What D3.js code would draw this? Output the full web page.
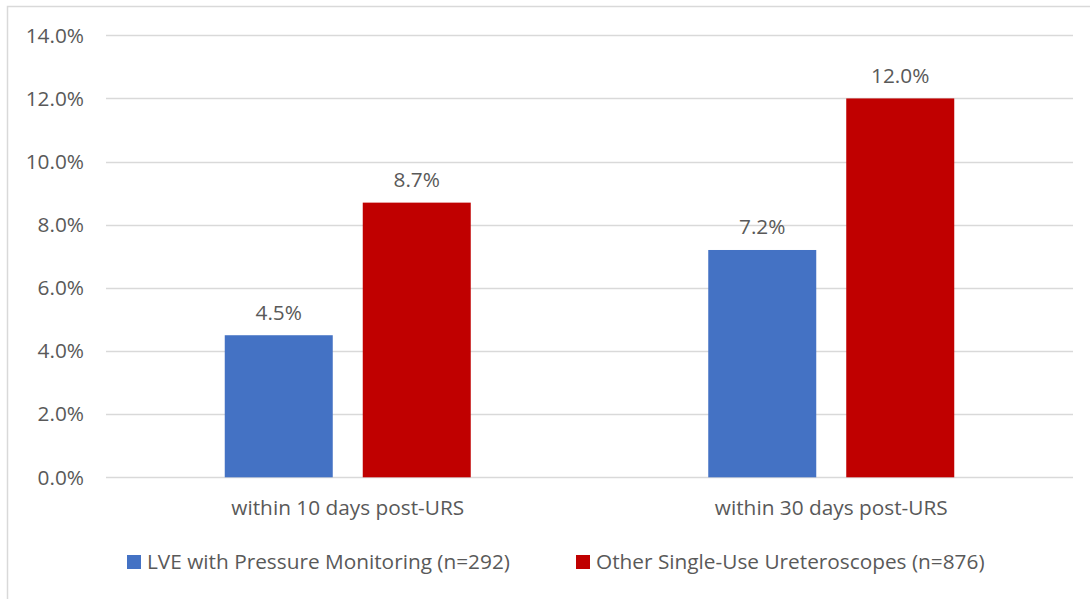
<!DOCTYPE html>
<html>
<head>
<meta charset="utf-8">
<script src="https://cdn.jsdelivr.net/npm/d3@7"></script>
<style>
  html, body { margin: 0; padding: 0; background: #fff; }
  svg { display: block; }
  text { font-family: "Open Sans", sans-serif; fill: #595959; }
</style>
</head>
<body>
<svg id="chart" width="1090" height="599"></svg>
<script>
// Readmission rates by follow-up window
const categories = ["within 10 days post-URS", "within 30 days post-URS"];
const seriesNames = ["LVE with Pressure Monitoring (n=292)", "Other Single-Use Ureteroscopes (n=876)"];
const lveValues = [4.5, 7.2];
const otherValues = [8.7, 12.0];
const seriesColors = ["#4472C4", "#C00000"];
const yTicks = [0, 2, 4, 6, 8, 10, 12, 14];

const FS = "20.8px";
const svg = d3.select("#chart");
const W = 1090, H = 599;

// outer frame
svg.append("rect")
  .attr("x", 7.5).attr("y", 6.5)
  .attr("width", W + 10).attr("height", H + 10)
  .attr("fill", "none").attr("stroke", "#d9d9d9").attr("stroke-width", 1.5);

const plot = { left: 106, right: 1073, top: 35.3, bottom: 477.3 };

const y = d3.scaleLinear().domain([0, 14]).range([plot.bottom, plot.top]);
const x0 = d3.scaleBand().domain(categories).range([plot.left, plot.right]).paddingInner(0).paddingOuter(0);
const x1 = d3.scaleBand().domain([0, 1])
  .range([x0.bandwidth() / 2 - 123, x0.bandwidth() / 2 + 123])
  .paddingInner(30 / 246 * 2 / (1 + 30 / 246)).paddingOuter(0);

// gridlines
svg.append("g").selectAll("line").data(yTicks).join("line")
  .attr("x1", plot.left).attr("x2", plot.right)
  .attr("y1", d => Math.round(y(d)) + 0.5).attr("y2", d => Math.round(y(d)) + 0.5)
  .attr("stroke", "#d9d9d9").attr("stroke-width", 1.3);

// y tick labels
svg.append("g").selectAll("text").data(yTicks).join("text")
  .attr("x", 84).attr("y", d => y(d))
  .attr("dy", "0.35em").attr("text-anchor", "end")
  .style("font-size", FS)
  .text(d => d.toFixed(1) + "%");

const rows = categories.map((c, i) => ({ cat: c, vals: [lveValues[i], otherValues[i]] }));

const groups = svg.append("g").selectAll("g").data(rows).join("g")
  .attr("transform", d => `translate(${x0(d.cat)},0)`);

groups.selectAll("rect").data(d => d.vals.map((v, k) => ({ v, k }))).join("rect")
  .attr("x", d => x1(d.k)).attr("width", x1.bandwidth())
  .attr("y", d => y(d.v)).attr("height", d => y(0) - y(d.v))
  .attr("fill", d => seriesColors[d.k]);

groups.selectAll("text.val").data(d => d.vals.map((v, k) => ({ v, k }))).join("text")
  .attr("class", "val")
  .attr("x", d => x1(d.k) + x1.bandwidth() / 2)
  .attr("y", d => y(d.v) - 23)
  .attr("dy", "0.35em").attr("text-anchor", "middle")
  .style("font-size", FS)
  .text(d => d.v.toFixed(1) + "%");

// category labels
svg.append("g").selectAll("text").data(categories).join("text")
  .attr("x", d => x0(d) + x0.bandwidth() / 2).attr("y", 508)
  .attr("dy", "0.35em").attr("text-anchor", "middle")
  .style("font-size", FS)
  .text(d => d);

// legend
const legendX = [127, 576];
const lg = svg.append("g").selectAll("g").data(seriesNames).join("g")
  .attr("transform", (d, i) => `translate(${legendX[i]},555)`);
lg.append("rect").attr("width", 14).attr("height", 14).attr("fill", (d, i) => seriesColors[i]);
lg.append("text").attr("x", 20).attr("y", 7).attr("dy", "0.35em")
  .style("font-size", FS).text(d => d);
</script>
</body>
</html>
